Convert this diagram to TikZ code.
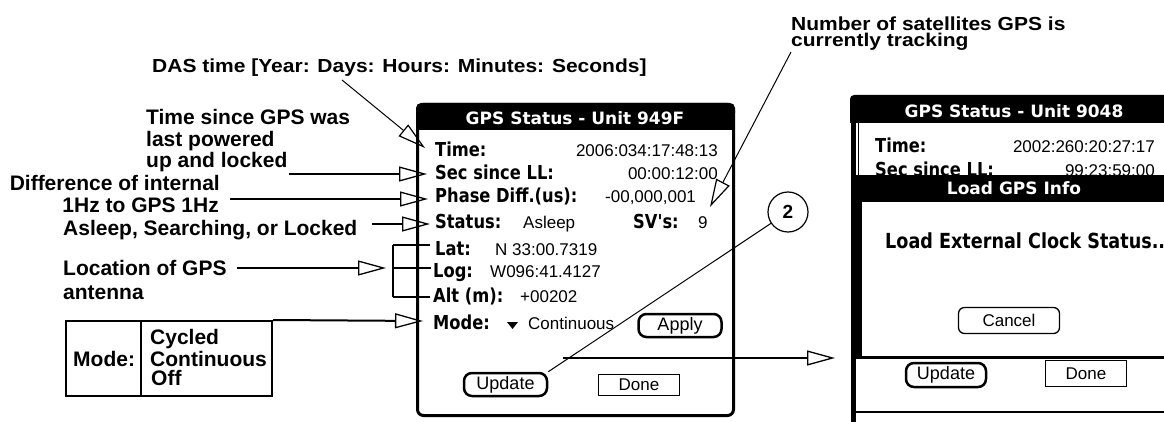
\documentclass[tikz,border=0pt]{standalone}
\usepackage{fontspec}
\usepackage{graphicx}
\setmainfont{Liberation Sans}
\newfontfamily\palm{DejaVu Sans}
\usetikzlibrary{arrows.meta}
% tall handheld lettering
\newcommand\tallbox[1]{\scalebox{1}[1.18]{#1}}
\begin{document}
\begin{tikzpicture}[x=1pt,y=-1pt,
  ann/.style={inner sep=0pt, font=\bfseries\fontsize{21}{21}\selectfont},
  lbl/.style={inner sep=0pt, anchor=base west, font=\palm\bfseries\fontsize{16.3}{16.3}\selectfont},
  val/.style={inner sep=0pt, font=\fontsize{17}{17}\selectfont},
  ttl/.style={inner sep=0pt, anchor=base, text=white, font=\palm\bfseries\fontsize{17}{17}\selectfont},
  lead/.style={line width=2pt, -{Triangle[open, length=28pt, width=15pt, line width=1.3pt]}},
  thinlead/.style={line width=1pt, -{Triangle[open, length=28pt, width=15pt, line width=1.2pt]}},
  roundbtn/.style={draw, line width=2.5pt, rounded corners=8pt, inner sep=0pt, font=\fontsize{18}{18}\selectfont},
  flatbtn/.style={draw, line width=1.2pt, inner sep=0pt, font=\fontsize{17}{17}\selectfont},
]
\useasboundingbox (0,0) rectangle (1164,422);
\clip (0,0) rectangle (1164,422);

% ---------- left handheld screen ----------
\draw[line width=3pt, rounded corners=6pt] (417.5,104.5) rectangle (733.5,415.5);
\fill[rounded corners=5pt] (416,103) rectangle (735,118);
\fill (416,112) rectangle (735,130);
\node[ttl] (title1) at (575,125) {GPS Status - Unit 949F};

\node[lbl] (time1) at (435,157) {\tallbox{Time:}};
\node[val, anchor=base east] (timev1) at (718,157) {2006:034:17:48:13};
\node[lbl] (sec1) at (435,180) {\tallbox{Sec since LL:}};
\node[val, anchor=base east] (secv1) at (718,180) {00:00:12:00};
\node[lbl] (phase) at (435,203) {\tallbox{Phase Diff.(us):}};
\node[val, anchor=base west] (phasev) at (605,203) {-00,000,001};
\node[lbl] (status) at (435,228) {\tallbox{Status:}};
\node[val, anchor=base west] (statusv) at (523,228) {Asleep};
\node[lbl] (sv) at (633,228) {\tallbox{SV's:}};
\node[val, anchor=base west] (svv) at (698,228) {9};
\node[lbl] (lat) at (435,255) {\tallbox{Lat:}};
\node[val, anchor=base west] (latv) at (495,255) {N 33:00.7319};
\node[lbl] (log) at (433,277) {\tallbox{Log:}};
\node[val, anchor=base west] (logv) at (490,277) {W096:41.4127};
\node[lbl] (alt) at (433,302) {\tallbox{Alt (m):}};
\node[val, anchor=base west] (altv) at (520,302) {+00202};
\node[lbl] (mode) at (433,329) {\tallbox{Mode:}};
\fill (507,322) -- (518,322) -- (512.5,329) -- cycle;
\node[val, anchor=base west] (modev) at (528,329) {Continuous};

\node[roundbtn, minimum width=83pt, minimum height=23pt] (apply) at (680,325.5) {Apply};
\node[roundbtn, minimum width=83pt, minimum height=23pt] (upd1) at (505.5,384.5) {Update};
\node[flatbtn, minimum width=81pt, minimum height=21pt] (done1) at (639,385) {Done};

% ---------- right handheld screen (with dialog) ----------
\fill[rounded corners=4pt] (850,95) rectangle (1170,110);
\fill (850,103) rectangle (1170,123);
\fill (851,100) rectangle (856,422);
\draw[line width=1pt] (858,123) -- (858,175);
\node[ttl] (title2) at (1014,118) {GPS Status - Unit 9048};
\node[lbl] (time2) at (875,153) {\tallbox{Time:}};
\node[val, anchor=base east] (timev2) at (1155,153) {2002:260:20:27:17};
\begin{scope}
  \clip (858,123) rectangle (1164,175);
  \node[lbl] (sec2) at (875,177) {\tallbox{Sec since LL:}};
  \node[val, anchor=base east] (secv2) at (1155,177) {99:23:59:00};
\end{scope}
\fill (856,175) rectangle (1170,202);
\node[ttl] (dlgtitle) at (1014,195) {Load GPS Info};
\fill (851,202) rectangle (862,357);
\draw[line width=3pt] (856,357.5) -- (1170,357.5);
\node[lbl, font=\palm\bfseries\fontsize{17.6}{17.6}\selectfont] (loadmsg) at (885,248) {\tallbox{Load External Clock Status...}};
\node[draw, line width=1.3pt, rounded corners=6pt, inner sep=0pt, minimum width=101pt, minimum height=26pt, font=\fontsize{17}{17}\selectfont] (cancel) at (1009,320.5) {Cancel};
\node[roundbtn, minimum width=80pt, minimum height=24pt] (upd2) at (946,375) {Update};
\node[flatbtn, minimum width=81pt, minimum height=26pt] (done2) at (1086,373.5) {Done};
\draw[line width=2.5pt] (853,412) -- (1170,412);

% ---------- annotations ----------
\node[ann, anchor=base west] (das) at (152,73) {\scalebox{1}[0.9]{DAS time [Year: Days: Hours: Minutes: Seconds]}};
\node[ann, anchor=base west] (since1) at (146,125) {Time since GPS was};
\node[ann, anchor=base west] (since2) at (146,147) {last powered};
\node[ann, anchor=base west] (since3) at (146,168) {up and locked};
\node[ann, anchor=base east] (diff1) at (220,191) {Difference of internal};
\node[ann, anchor=base east] (diff2) at (219,212) {1Hz to GPS 1Hz};
\node[ann, anchor=base west] (asleep) at (63,236) {Asleep, Searching, or Locked};
\node[ann, anchor=base west] (loc1) at (63,275) {Location of GPS};
\node[ann, anchor=base west] (loc2) at (63,299) {antenna};
\node[ann, anchor=base west] (sat1) at (791,31) {\scalebox{1}[0.9]{Number of satellites GPS is}};
\node[ann, anchor=base west] (sat2) at (791,47) {\scalebox{1}[0.88]{currently tracking}};

% mode choices table
\node[draw, line width=2pt, inner sep=0pt, minimum width=206pt, minimum height=75pt] (modebox) at (169,358.5) {};
\draw[line width=2pt] (141,321) -- (141,397);
\node[ann, anchor=base west] (modelbl) at (73,366) {Mode:};
\node[ann, anchor=base west] (cyc) at (150,344) {Cycled};
\node[ann, anchor=base west] (cont) at (150,366) {Continuous};
\node[ann, anchor=base west] (off) at (151,385) {Off};

% leader end points
\coordinate (dasS) at (342,80);
\coordinate (dasE) at (425,148);
\coordinate (sinceS) at (289,174);
\coordinate (sinceE) at (427,174);
\coordinate (diffS) at (230,199);
\coordinate (diffE) at (428,199);
\coordinate (stS) at (372,224);
\coordinate (stE) at (430,224);
\coordinate (locS) at (237,268);
\coordinate (locE) at (386,268);
\coordinate (modeE) at (423,321);
\coordinate (satS) at (791,52);
\coordinate (satE) at (710,207);
\coordinate (nextS) at (563,358);
\coordinate (nextE) at (835,358);

\draw[thinlead] (dasS) -- (dasE);
\draw[lead] (sinceS) -- (sinceE);
\draw[lead] (diffS) -- (diffE);
\draw[lead] (stS) -- (stE);
\draw[lead] (locS) -- (locE);
\draw[lead] (modebox.north east) -- (modeE);
\draw[thinlead] (satS) -- (satE);
\draw[lead] (nextS) -- (nextE);

% bracket grouping Lat / Log / Alt
\coordinate (brT) at (393,245);
\coordinate (brM) at (393,268);
\coordinate (brB) at (393,297);
\draw[line width=2pt] (brT) -- (brB);
\draw[line width=2pt] (brT) -- (430,245);
\draw[line width=2pt] (brM) -- (431,268);
\draw[line width=2pt] (brB) -- (430,297);

% step marker
\node[circle, draw, line width=1.2pt, minimum size=40pt, inner sep=0pt, font=\bfseries\fontsize{19}{19}\selectfont] (c2) at (788,212) {2};
\draw[line width=1pt] (c2) -- (upd1.north east);
\end{tikzpicture}
\end{document}
